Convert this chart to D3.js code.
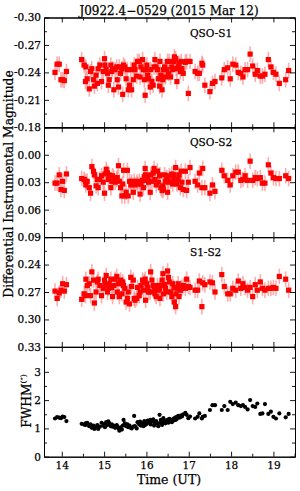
<!DOCTYPE html>
<html>
<head>
<meta charset="utf-8">
<script src="https://cdn.jsdelivr.net/npm/d3@7"></script>
<style>
  html, body { margin: 0; padding: 0; background: #fff; }
  svg { display: block; }
  text { font-family: "DejaVu Serif", serif; fill: #000; stroke: #000; stroke-width: 0.25px; }
</style>
</head>
<body>
<div id="chart"></div>
<script>
// observation times (UT hours), shared by all four panels
const timeUT = [
  13.84,13.89,13.94,13.98,14.02,14.06,14.11,
  14.47,14.53,14.56,14.57,14.60,14.65,14.68,14.71,14.75,14.77,
  14.81,14.84,14.86,14.90,14.94,14.98,15.01,15.02,15.05,15.08,
  15.10,15.12,15.16,15.18,15.20,15.23,15.26,15.30,15.31,15.34,
  15.36,15.39,15.42,15.44,15.46,15.49,15.52,15.55,15.57,15.60,
  15.63,15.65,15.69,15.71,15.73,15.77,15.79,15.83,15.85,15.87,
  15.91,15.93,15.95,15.97,15.98,16.01,16.03,16.05,16.09,16.10,
  16.13,16.16,16.18,16.20,16.23,16.26,16.28,16.31,16.32,16.34,
  16.37,16.39,16.40,16.43,16.45,16.48,16.50,16.52,16.54,16.57,
  16.60,16.62,16.65,16.66,16.69,16.70,16.72,16.75,16.77,16.80,
  16.82,16.84,16.87,16.92,16.95,16.99,17.03,
  17.15,17.21,17.25,17.31,17.33,17.38,17.50,17.56,17.62,
  17.78,17.84,17.92,17.98,18.04,18.11,18.17,18.23,18.28,18.33,
  18.39,18.45,18.51,18.57,18.62,18.69,18.74,18.80,18.88,18.94,
  19.00,19.06,19.14,19.29,19.36
];

const qsoS1 = [
  -0.240,-0.249,-0.249,-0.232,-0.232,-0.231,-0.241,
  -0.254,-0.248,-0.230,-0.246,-0.233,-0.222,-0.241,-0.244,-0.232,-0.225,
  -0.237,-0.228,-0.244,-0.248,-0.230,-0.241,-0.255,-0.248,-0.243,-0.239,
  -0.226,-0.232,-0.248,-0.241,-0.244,-0.221,-0.243,-0.246,-0.232,-0.224,
  -0.246,-0.239,-0.244,-0.216,-0.248,-0.246,-0.233,-0.243,-0.221,-0.226,
  -0.243,-0.221,-0.232,-0.248,-0.243,-0.236,-0.252,-0.252,-0.235,-0.246,
  -0.254,-0.243,-0.232,-0.215,-0.243,-0.248,-0.237,-0.233,-0.224,-0.243,
  -0.230,-0.226,-0.246,-0.254,-0.246,-0.243,-0.233,-0.225,-0.252,-0.237,
  -0.221,-0.232,-0.243,-0.246,-0.235,-0.243,-0.252,-0.239,-0.252,-0.235,
  -0.246,-0.243,-0.252,-0.257,-0.255,-0.244,-0.230,-0.246,-0.250,-0.241,
  -0.252,-0.244,-0.239,-0.251,-0.252,-0.217,-0.252,
  -0.241,-0.239,-0.239,-0.250,-0.248,-0.226,-0.219,-0.228,-0.230,
  -0.234,-0.243,-0.245,-0.233,-0.249,-0.248,-0.240,-0.239,-0.235,-0.243,
  -0.243,-0.260,-0.247,-0.238,-0.242,-0.236,-0.236,-0.238,-0.254,-0.246,
  -0.240,-0.238,-0.228,-0.232,-0.242
];

const qsoS2 = [
  0.031,0.031,0.022,0.038,0.029,0.039,0.021,
  0.026,0.027,0.029,0.033,0.029,0.036,0.042,0.013,0.018,0.022,
  0.034,0.027,0.036,0.027,0.023,0.030,0.042,0.021,0.016,0.020,
  0.027,0.022,0.036,0.029,0.023,0.025,0.030,0.027,0.025,0.012,
  0.029,0.036,0.045,0.032,0.017,0.045,0.041,0.017,0.045,0.029,
  0.033,0.030,0.041,0.029,0.033,0.030,0.032,0.029,0.043,0.032,
  0.028,0.036,0.024,0.015,0.022,0.028,0.025,0.030,0.041,0.022,
  0.029,0.020,0.015,0.027,0.033,0.018,0.030,0.023,0.022,0.036,
  0.039,0.034,0.038,0.022,0.029,0.025,0.041,0.030,0.023,0.029,
  0.021,0.032,0.022,0.027,0.014,0.027,0.032,0.027,0.022,0.036,
  0.018,0.030,0.038,0.018,0.039,0.030,0.014,
  0.029,0.033,0.020,0.036,0.015,0.036,0.042,0.033,0.040,
  0.017,0.023,0.028,0.033,0.023,0.019,0.019,0.028,0.027,0.023,
  0.028,0.007,0.028,0.025,0.026,0.025,0.031,0.031,0.011,0.020,
  0.025,0.026,0.026,0.023,0.026
];

const s1S2 = [
  0.269,0.277,0.271,0.268,0.261,0.269,0.262,
  0.278,0.272,0.274,0.256,0.263,0.261,0.274,0.248,0.257,0.282,
  0.270,0.259,0.256,0.263,0.274,0.266,0.257,0.261,0.252,0.270,
  0.266,0.261,0.256,0.265,0.275,0.263,0.256,0.253,0.270,0.261,
  0.275,0.257,0.272,0.259,0.263,0.266,0.281,0.277,0.270,0.283,
  0.254,0.264,0.257,0.277,0.279,0.277,0.265,0.274,0.270,0.263,
  0.257,0.268,0.259,0.256,0.279,0.261,0.265,0.270,0.270,0.248,
  0.257,0.263,0.268,0.272,0.275,0.263,0.268,0.266,0.277,0.263,
  0.257,0.250,0.272,0.262,0.266,0.270,0.247,0.254,0.259,0.270,
  0.275,0.261,0.265,0.281,0.286,0.272,0.266,0.261,0.275,0.268,
  0.265,0.266,0.263,0.266,0.256,0.264,0.265,
  0.268,0.268,0.258,0.286,0.260,0.262,0.259,0.260,0.270,
  0.251,0.264,0.272,0.272,0.266,0.268,0.258,0.266,0.261,0.265,
  0.268,0.265,0.275,0.262,0.268,0.259,0.266,0.268,0.266,0.266,
  0.265,0.266,0.253,0.256,0.268
];

const fwhm = [
  1.35,1.40,1.38,1.36,1.42,1.40,1.26,
  1.16,1.13,1.18,1.12,1.20,1.08,1.14,1.02,1.10,0.98,
  1.05,1.12,0.98,1.06,1.20,1.10,1.16,1.04,1.22,1.12,
  1.25,1.18,1.08,1.14,1.06,1.10,1.02,1.12,1.06,1.00,
  0.92,1.04,0.96,1.10,1.30,1.18,1.08,1.14,1.04,1.10,
  1.02,1.00,1.06,1.44,1.08,1.00,1.22,1.14,1.24,1.10,
  1.18,1.08,1.26,1.12,1.20,1.16,1.28,1.22,1.30,1.14,
  1.24,1.32,1.10,1.20,1.26,1.16,1.08,1.48,1.20,1.30,
  1.12,1.22,1.36,1.28,1.18,1.24,1.30,1.20,1.34,1.26,
  1.22,1.32,1.28,1.36,1.30,1.40,1.34,1.44,1.38,1.40,
  1.46,1.42,1.50,1.55,1.48,1.36,1.42,
  1.35,1.41,1.53,1.35,1.41,1.44,1.65,1.82,1.82,
  1.65,1.79,1.65,1.94,1.86,1.91,1.82,1.79,1.82,1.76,
  1.67,2.00,1.79,1.76,1.88,1.51,1.53,1.86,1.51,1.59,
  1.41,1.35,1.53,1.39,1.51
];

const magErr = 0.0085; // typical photometric error bar (mag)

// tick labels
const xTicks = [14, 15, 16, 17, 18, 19];
const s1Ticks = [-0.30, -0.27, -0.24, -0.21, -0.18];
const s2Ticks = [0.00, 0.03, 0.06, 0.09];
const s12Ticks = [0.24, 0.27, 0.30, 0.33];
const fwhmTicks = [0, 1, 2, 3];

const width = 300, height = 491;
const left = 44, right = 295;
const top0 = 17.5, panelH = 109.8;

const svg = d3.select("#chart").append("svg")
  .attr("width", width)
  .attr("height", height);

const x = d3.scaleLinear().domain([13.58, 19.51]).range([left, right]);
const xMinor = d3.range(13.5, 19.6, 0.5).filter(d => d > 13.58 && d < 19.51 && d % 1 !== 0);

const panels = [
  { label: "QSO-S1", values: qsoS1, domain: [-0.30, -0.18], ticks: s1Ticks, step: 0.015, fmt: d => d.toFixed(2), err: true },
  { label: "QSO-S2", values: qsoS2, domain: [-0.03, 0.09], ticks: s2Ticks, step: 0.015, fmt: d => d.toFixed(2), err: true },
  { label: "S1-S2", values: s1S2, domain: [0.21, 0.33], ticks: s12Ticks, step: 0.015, fmt: d => d.toFixed(2), err: true },
  { label: "", values: fwhm, domain: [3.88, 0], ticks: fwhmTicks, step: 0.5, fmt: d => d.toFixed(0), err: false }
];

panels.forEach((p, i) => {
  const top = top0 + i * panelH;
  const bottom = top + panelH;
  const y = d3.scaleLinear().domain(p.domain).range([top, bottom]);
  const lo = Math.min(...p.domain), hi = Math.max(...p.domain);
  const minor = d3.range(lo, hi + 1e-9, p.step)
    .filter(d => d > lo + 1e-6 && d < hi - 1e-6)
    .filter(d => !p.ticks.some(t => Math.abs(t - d) < 1e-6));

  const g = svg.append("g");

  // data
  if (p.err) {
    g.append("g").selectAll("line")
      .data(p.values)
      .enter()
      .append("line")
      .attr("x1", (_, j) => x(timeUT[j]))
      .attr("x2", (_, j) => x(timeUT[j]))
      .attr("y1", d => y(d - magErr))
      .attr("y2", d => y(d + magErr))
      .attr("stroke", "rgba(255,70,70,0.45)")
      .attr("stroke-width", 1.6);

    g.append("g").selectAll("rect")
      .data(p.values)
      .enter()
      .append("rect")
      .attr("x", (_, j) => x(timeUT[j]) - 2.6)
      .attr("y", d => y(d) - 2.6)
      .attr("width", 5.2)
      .attr("height", 5.2)
      .attr("fill", "#ff0000");
  } else {
    g.append("g").selectAll("circle")
      .data(p.values)
      .enter()
      .append("circle")
      .attr("cx", (_, j) => x(timeUT[j]))
      .attr("cy", d => y(d))
      .attr("r", 2.1)
      .attr("fill", "#000");
  }

  // axes, ticks pointing inward on all four sides
  const addAxis = (axis, tx, ty) => {
    const a = g.append("g")
      .attr("transform", `translate(${tx},${ty})`)
      .call(axis);
    a.select(".domain").attr("stroke", "#000").attr("stroke-width", 1);
    a.selectAll(".tick line").attr("stroke", "#000").attr("stroke-width", 0.9);
    return a;
  };

  const yl = addAxis(d3.axisLeft(y).tickValues(p.ticks).tickSize(-5).tickSizeOuter(0).tickPadding(3).tickFormat(p.fmt), left, 0);
  yl.selectAll("text").attr("font-size", "10.5px").attr("font-family", "DejaVu Serif");
  addAxis(d3.axisLeft(y).tickValues(minor).tickSize(-3).tickSizeOuter(0).tickFormat(""), left, 0);
  addAxis(d3.axisRight(y).tickValues(p.ticks).tickSize(-5).tickSizeOuter(0).tickFormat(""), right, 0);
  addAxis(d3.axisRight(y).tickValues(minor).tickSize(-3).tickSizeOuter(0).tickFormat(""), right, 0);

  addAxis(d3.axisTop(x).tickValues(xTicks).tickSize(-5).tickSizeOuter(0).tickFormat(""), 0, top);
  addAxis(d3.axisTop(x).tickValues(xMinor).tickSize(-3).tickSizeOuter(0).tickFormat(""), 0, top);
  const xb = addAxis(d3.axisBottom(x).tickValues(xTicks).tickSize(-5).tickSizeOuter(0).tickPadding(5)
    .tickFormat(i === 3 ? d3.format("d") : ""), 0, bottom);
  xb.selectAll("text").attr("font-size", "10.5px").attr("font-family", "DejaVu Serif");
  addAxis(d3.axisBottom(x).tickValues(xMinor).tickSize(-3).tickSizeOuter(0).tickFormat(""), 0, bottom);

  if (p.label) {
    g.append("text")
      .attr("x", 190)
      .attr("y", top + 19)
      .attr("font-size", "10.5px")
      .text(p.label);
  }
});

// title and axis titles
svg.append("text")
  .attr("x", 169)
  .attr("y", 15)
  .attr("text-anchor", "middle")
  .attr("font-size", "12px")
  .text("J0922.4\u22120529 (2015 Mar 12)");

svg.append("text")
  .attr("transform", "translate(13,184) rotate(-90)")
  .attr("text-anchor", "middle")
  .attr("font-size", "12.3px")
  .text("Differential Instrumental Magnitude");

const fl = svg.append("text")
  .attr("transform", "translate(31,401) rotate(-90)")
  .attr("text-anchor", "middle")
  .attr("font-size", "12.3px");
fl.append("tspan").text("FWHM");
fl.append("tspan").attr("font-size", "8px").attr("dy", "-5").text("(\u2033)");

svg.append("text")
  .attr("x", 169)
  .attr("y", 484)
  .attr("text-anchor", "middle")
  .attr("font-size", "12.5px")
  .text("Time (UT)");
</script>
</body>
</html>
